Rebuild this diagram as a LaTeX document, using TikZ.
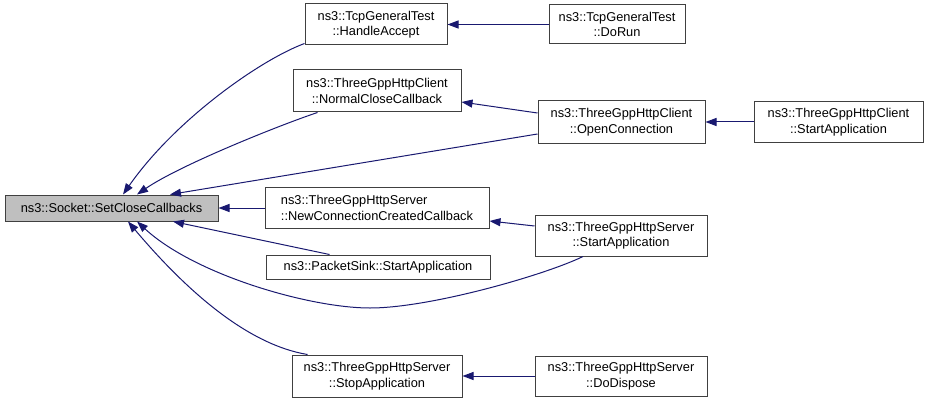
\documentclass[tikz,border=0pt]{standalone}
\usepackage{fontspec}
\setmainfont{Liberation Sans}
\usetikzlibrary{arrows.meta}
\definecolor{mblue}{RGB}{25,25,112}
\definecolor{bord}{RGB}{64,64,64}
\begin{document}
\begin{tikzpicture}[x=1pt,y=1pt,
  fn/.style={draw=bord, fill=white, line width=1pt, inner sep=0pt,
    font=\fontsize{12.8}{15.5}\selectfont, align=center, text=black},
  edge/.style={draw=mblue, line width=1pt, -{Triangle[length=11pt,width=8pt,fill=mblue]}},
]
\useasboundingbox (0,0) rectangle (928,-401);
\node[fn, fill=black!25, minimum width=213pt, minimum height=26pt] (main) at (111.5,-208) {ns3::Socket::SetCloseCallbacks};
\node[fn, minimum width=142pt, minimum height=41pt] (ha) at (376,-24.5) {ns3::TcpGeneralTest\\::HandleAccept};
\node[fn, minimum width=168pt, minimum height=42pt] (ncc) at (377,-91) {ns3::ThreeGppHttpClient\\::NormalCloseCallback};
\node[fn, align=left, minimum width=224pt, minimum height=41pt] (ncb) at (377,-208) {ns3::ThreeGppHttpServer\\::NewConnectionCreatedCallback};
\node[fn, minimum width=224pt, minimum height=24pt] (ps) at (378,-267) {ns3::PacketSink::StartApplication};
\node[fn, minimum width=170pt, minimum height=42pt] (stop) at (377,-376) {ns3::ThreeGppHttpServer\\::StopApplication};
\node[fn, minimum width=136pt, minimum height=39pt] (dorun) at (617,-24.5) {ns3::TcpGeneralTest\\::DoRun};
\node[fn, minimum width=167pt, minimum height=42pt] (oc) at (621.5,-122) {ns3::ThreeGppHttpClient\\::OpenConnection};
\node[fn, minimum width=172pt, minimum height=41pt] (ssa) at (621,-235.5) {ns3::ThreeGppHttpServer\\::StartApplication};
\node[fn, minimum width=172pt, minimum height=40pt] (dd) at (621,-376) {ns3::ThreeGppHttpServer\\::DoDispose};
\node[fn, minimum width=169pt, minimum height=40pt] (csa) at (838.5,-122) {ns3::ThreeGppHttpClient\\::StartApplication};

\draw[edge] ([yshift=2pt]ha.south west) .. controls (260,-60) and (175,-120) .. ([xshift=11.5pt]main.north);
\draw[edge] ([xshift=25pt]ncc.south west) .. controls (280,-125) and (180,-165) .. ([xshift=25.5pt]main.north);
\draw[edge] ([yshift=-12pt]oc.west) -- ([xshift=58.5pt]main.north);
\draw[edge] (ncb.west) -- (main.east);
\draw[edge] ([xshift=64pt]ps.north west) -- ([xshift=61.5pt]main.south);
\draw[edge] ([xshift=-38pt]ssa.south) .. controls (545,-275) and (430,-308) .. (370,-308) .. controls (310,-308) and (195,-275) .. ([xshift=25.5pt]main.south);
\draw[edge] ([xshift=16pt]stop.north west) .. controls (250,-345) and (190,-295) .. ([xshift=16.5pt]main.south);
\draw[edge] (dorun.west) -- (ha.east);
\draw[edge] ([yshift=9pt]oc.west) -- ([yshift=-11pt]ncc.east);
\draw[edge] ([yshift=9.5pt]ssa.west) -- ([yshift=-13pt]ncb.east);
\draw[edge] (csa.west) -- (oc.east);
\draw[edge] (dd.west) -- (stop.east);
\end{tikzpicture}
\end{document}
